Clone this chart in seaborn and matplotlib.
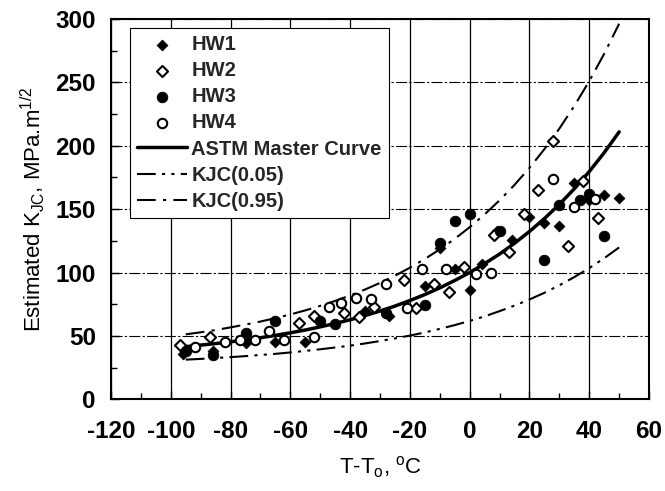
import numpy as np
import pandas as pd
import matplotlib
matplotlib.use("Agg")
import matplotlib.pyplot as plt
from matplotlib.ticker import MultipleLocator
import seaborn as sns

# measured points, (T - T0 in degC, K_JC in MPa.m^1/2)
hw1_t = [-96, -86, -75, -65, -55, -35, -27, -15, -10, -5, 0, 4, 9, 14, 20, 25, 30, 35, 40, 45, 50]
hw1_k = [36, 38, 44, 45, 45, 70, 66, 89, 119, 103, 86, 107, 133, 126, 144, 139, 137, 171, 157, 161, 159]

hw2_t = [-97, -87, -57, -52, -42, -37, -32, -22, -18, -12, -7, -2, 8, 13, 18, 23, 28, 33, 38, 43]
hw2_k = [43, 49, 60, 66, 68, 65, 73, 94, 72, 91, 85, 104, 130, 116, 146, 165, 204, 121, 172, 143]

hw3_t = [-95, -86, -75, -65, -50, -45, -28, -15, -10, -5, 0, 10, 25, 30, 37, 40, 45]
hw3_k = [38, 35, 52, 62, 62, 59, 68, 74, 123, 141, 146, 133, 110, 153, 157, 162, 129]

hw4_t = [-92, -82, -77, -72, -67, -62, -52, -47, -43, -38, -33, -28, -21, -16, -8, 2, 7, 28, 35, 42]
hw4_k = [41, 45, 47, 47, 54, 47, 49, 73, 76, 80, 79, 91, 72, 103, 103, 99, 100, 174, 152, 158]

# curves
curve_t = [-95, -90, -85, -80, -75, -70, -65, -60, -55, -50, -45, -40, -35, -30, -25,
           -20, -15, -10, -5, 0, 5, 10, 15, 20, 25, 30, 35, 40, 45, 50]
master_k = [41.5, 42.7, 43.9, 45.3, 46.8, 48.5, 50.4, 52.4, 54.6, 57.1, 59.8, 62.7, 66.0, 69.6, 73.5,
            77.9, 82.6, 87.9, 93.7, 100.0, 107.0, 114.6, 123.1, 132.4, 142.6, 153.8, 166.1, 179.7, 194.6, 211.0]
k05 = [31.2, 31.8, 32.5, 33.2, 34.0, 34.9, 35.8, 36.9, 38.1, 39.4, 40.8, 42.3, 44.0, 45.9, 48.0,
       50.2, 52.7, 55.5, 58.5, 61.8, 65.4, 69.5, 73.9, 78.7, 84.0, 89.9, 96.4, 103.5, 111.3, 119.8]
k95 = [51.2, 52.8, 54.6, 56.7, 58.9, 61.3, 64.0, 66.9, 70.1, 73.7, 77.6, 81.9, 86.6, 91.8, 97.5,
       103.8, 110.7, 118.3, 126.6, 135.8, 145.9, 157.0, 169.2, 182.6, 197.4, 213.6, 231.5, 251.1, 272.7, 296.4]

sns.set_theme(style="white")
plt.rcParams['font.family'] = ['Liberation Sans', 'DejaVu Sans']
plt.rcParams['mathtext.default'] = 'regular'
plt.rcParams['axes.unicode_minus'] = False

fig = plt.figure(figsize=(6.65, 4.91), dpi=100)
ax = fig.add_axes([0.167, 0.187, 0.809, 0.774])

curves = pd.DataFrame({'t': curve_t, 'master': master_k, 'k05': k05, 'k95': k95})

sns.scatterplot(x=hw1_t, y=hw1_k, marker='D', s=30, color='black', edgecolor='black',
                linewidth=0.6, label='HW1', ax=ax, zorder=4)
sns.scatterplot(x=hw2_t, y=hw2_k, marker='D', s=32, facecolor='white', edgecolor='black',
                linewidth=1.5, label='HW2', ax=ax, zorder=4)
sns.scatterplot(x=hw3_t, y=hw3_k, marker='o', s=58, color='black', edgecolor='black',
                linewidth=0.6, label='HW3', ax=ax, zorder=4)
sns.scatterplot(x=hw4_t, y=hw4_k, marker='o', s=46, facecolor='white', edgecolor='black',
                linewidth=1.5, label='HW4', ax=ax, zorder=4)

sns.lineplot(data=curves, x='t', y='master', color='black', lw=2.5, label='ASTM Master Curve', ax=ax, zorder=3)
sns.lineplot(data=curves, x='t', y='k05', color='black', lw=1.5, label='KJC(0.05)', ax=ax, zorder=3)
sns.lineplot(data=curves, x='t', y='k95', color='black', lw=1.5, label='KJC(0.95)', ax=ax, zorder=3)
ax.lines[1].set_dashes([9, 3, 1.5, 3, 1.5, 3])
ax.lines[2].set_dashes([9, 3.5, 1.5, 3.5])

ax.set_xlim(-120, 60)
ax.set_ylim(0, 300)
ax.xaxis.set_major_locator(MultipleLocator(20))
ax.xaxis.set_minor_locator(MultipleLocator(10))
ax.yaxis.set_major_locator(MultipleLocator(50))
ax.yaxis.set_minor_locator(MultipleLocator(25))
ax.tick_params(which='both', direction='in', bottom=True, left=True, colors='black',
               labelsize=17.5)
ax.tick_params(axis='x', pad=15)
ax.tick_params(axis='y', pad=11)
ax.tick_params(which='major', length=6, width=1)
ax.tick_params(which='minor', length=4, width=1)
for lab in ax.get_xticklabels() + ax.get_yticklabels():
    lab.set_fontweight('bold')

ax.xaxis.grid(True, which='major', color='black', lw=0.9, ls='-')
ax.yaxis.grid(True, which='major', color='black', lw=0.8, ls=(0, (10, 2, 2, 2)))
for sp in ax.spines.values():
    sp.set_color('black')
    sp.set_linewidth(1.5)

ax.set_xlabel('T-T$_o$, $^o$C', fontsize=16, color='black', labelpad=8)
ax.set_ylabel('Estimated K$_{JC}$, MPa.m$^{1/2}$', fontsize=16, color='black', labelpad=6)

leg = ax.legend(loc='upper left', bbox_to_anchor=(0.035, 0.976), borderaxespad=0,
                prop={'size': 14.5, 'weight': 'bold'}, frameon=True, fancybox=False,
                framealpha=1, edgecolor='black', labelspacing=0.35, handlelength=2.5,
                handletextpad=0.2, borderpad=0.35, scatterpoints=1)
leg.get_frame().set_linewidth(0.8)

fig.savefig('out.png', dpi=100)
